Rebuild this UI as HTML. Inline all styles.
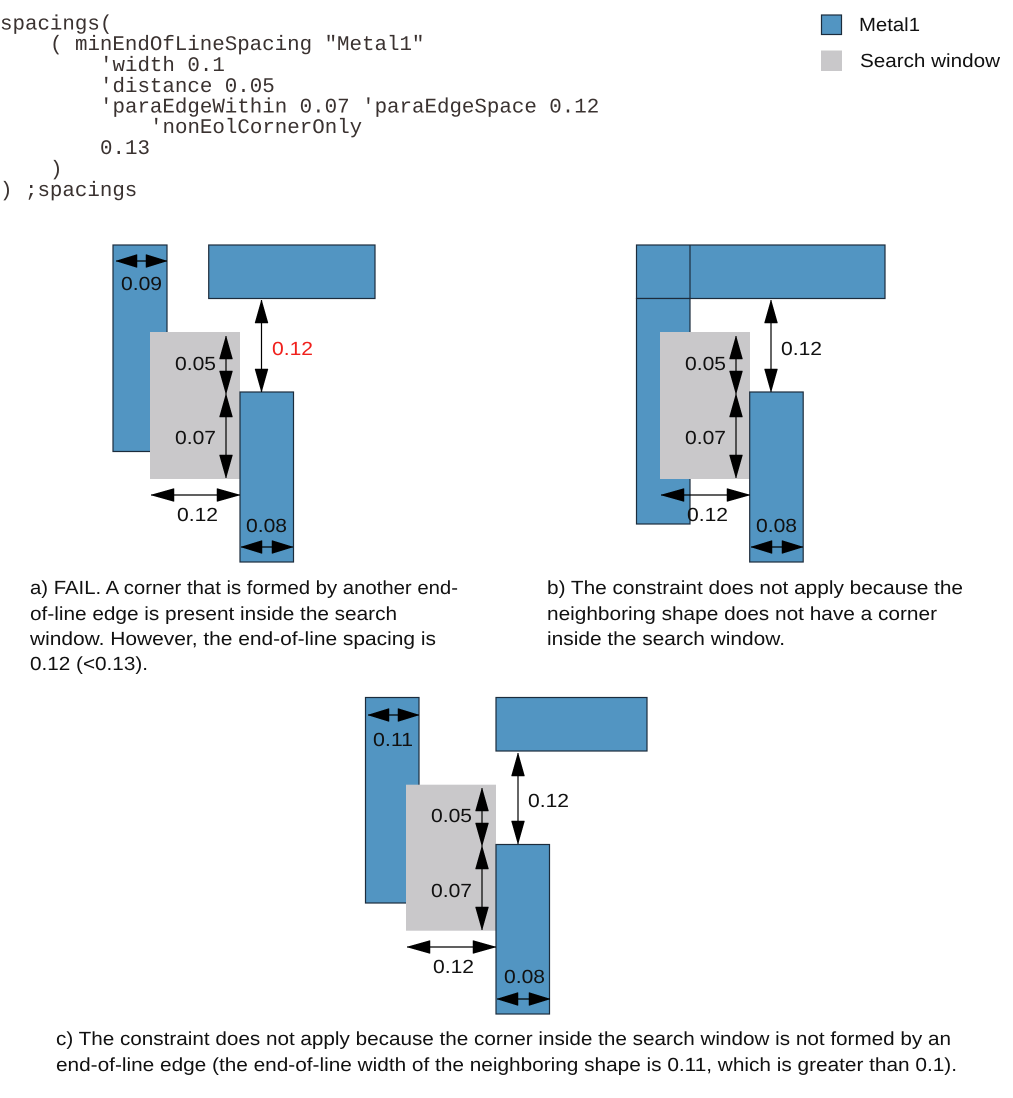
<!DOCTYPE html>
<html><head><meta charset="utf-8"><style>
html,body{margin:0;padding:0;background:#fff;width:1013px;height:1098px;overflow:hidden}
svg{display:block;text-rendering:geometricPrecision}
text{font-family:"Liberation Sans",sans-serif;font-size:19px;fill:#111}
.c text{font-family:"Liberation Mono",monospace;font-size:20.8px;fill:#3a3230;white-space:pre}
.r{fill:#5295c2;stroke:#1c2c3c;stroke-width:1.2}
.g{fill:#c9c8ca}
.l{stroke:#000;stroke-width:1.2;fill:none}
.h{fill:#000;stroke:#000;stroke-width:.5}
</style></head><body>
<svg width="1013" height="1098" viewBox="0 0 1013 1098" xmlns="http://www.w3.org/2000/svg">
<g class="c">
<text x="0" y="29.500">spacings(</text>
<text x="50" y="50">( minEndOfLineSpacing "Metal1"</text>
<text x="100" y="71">'width 0.1</text>
<text x="100" y="92">'distance 0.05</text>
<text x="100" y="112.500">'paraEdgeWithin 0.07 'paraEdgeSpace 0.12</text>
<text x="150" y="133">'nonEolCornerOnly</text>
<text x="100" y="154">0.13</text>
<text x="50" y="175">)</text>
<text x="0" y="196">) ;spacings</text>
</g>
<rect class="r" x="821.500" y="15" width="20" height="19.500"/>
<rect class="g" x="821" y="50.500" width="21" height="20.500"/>
<text x="859" y="31" textLength="61" lengthAdjust="spacingAndGlyphs">Metal1</text>
<text x="860" y="67" textLength="140" lengthAdjust="spacingAndGlyphs">Search window</text>

<!-- a -->
<rect class="r" x="113" y="245" width="54" height="206.500"/>
<rect class="r" x="208.700" y="245" width="166.300" height="53.500"/>
<rect class="g" x="150" y="332" width="90" height="147"/>
<rect class="r" x="240" y="392" width="53.500" height="170"/>
<path class="l" d="M116 261H167M261.500 300V392M226 336V478M151 495H240M241 547H293"/>
<path class="h" d="M116 261L137 254.500V267.500ZM167 261L146 254.500V267.500ZM261.500 300L255 323H268ZM261.500 392L255 369H268ZM226 336L219.500 359H232.500ZM226 394L219.500 371H232.500ZM226 394L219.500 417H232.500ZM226 478L219.500 455H232.500ZM151 495L174 488.500V501.500ZM240 495L217 488.500V501.500ZM241 547L262 540.500V553.500ZM293 547L272 540.500V553.500Z"/>
<text x="121" y="290" textLength="41" lengthAdjust="spacingAndGlyphs">0.09</text>
<text x="272" y="355" textLength="41" lengthAdjust="spacingAndGlyphs" style="fill:#f0201c">0.12</text>
<text x="175" y="370" textLength="41" lengthAdjust="spacingAndGlyphs">0.05</text>
<text x="175" y="444" textLength="41" lengthAdjust="spacingAndGlyphs">0.07</text>
<text x="177" y="521" textLength="41" lengthAdjust="spacingAndGlyphs">0.12</text>
<text x="246" y="532" textLength="41" lengthAdjust="spacingAndGlyphs">0.08</text>
<text x="30" y="594" textLength="428" lengthAdjust="spacingAndGlyphs">a) FAIL. A corner that is formed by another end-</text>
<text x="30" y="620" textLength="367" lengthAdjust="spacingAndGlyphs">of-line edge is present inside the search</text>
<text x="30" y="645" textLength="406" lengthAdjust="spacingAndGlyphs">window. However, the end-of-line spacing is</text>
<text x="30" y="670" textLength="118" lengthAdjust="spacingAndGlyphs">0.12 (&lt;0.13).</text>

<!-- b -->
<rect class="r" x="636.500" y="245" width="248.500" height="53.500"/>
<rect class="r" x="636.500" y="298.500" width="53.500" height="225.500"/>
<path class="l" d="M690 245V298.500" style="stroke:#1c2c3c"/>
<rect class="g" x="660" y="332" width="90" height="147"/>
<rect class="r" x="749.700" y="392" width="53.500" height="170"/>
<path class="l" d="M771 300V392M736 336V478M661 495H750M751 547H803"/>
<path class="h" d="M771 300L764.500 323H777.500ZM771 392L764.500 369H777.500ZM736 336L729.500 359H742.500ZM736 394L729.500 371H742.500ZM736 394L729.500 417H742.500ZM736 478L729.500 455H742.500ZM661 495L684 488.500V501.500ZM750 495L727 488.500V501.500ZM751 547L772 540.500V553.500ZM803 547L782 540.500V553.500Z"/>
<text x="781" y="355" textLength="41" lengthAdjust="spacingAndGlyphs">0.12</text>
<text x="685" y="370" textLength="41" lengthAdjust="spacingAndGlyphs">0.05</text>
<text x="685" y="444" textLength="41" lengthAdjust="spacingAndGlyphs">0.07</text>
<text x="687" y="521" textLength="41" lengthAdjust="spacingAndGlyphs">0.12</text>
<text x="756" y="532" textLength="41" lengthAdjust="spacingAndGlyphs">0.08</text>
<text x="547" y="594" textLength="416" lengthAdjust="spacingAndGlyphs">b) The constraint does not apply because the</text>
<text x="547" y="620" textLength="390" lengthAdjust="spacingAndGlyphs">neighboring shape does not have a corner</text>
<text x="547" y="645" textLength="238" lengthAdjust="spacingAndGlyphs">inside the search window.</text>

<!-- c -->
<rect class="r" x="365.500" y="697.500" width="53.500" height="205.500"/>
<rect class="r" x="496" y="697.500" width="151" height="53.500"/>
<rect class="g" x="406" y="784.700" width="90" height="146"/>
<rect class="r" x="496" y="844.500" width="53.500" height="169.500"/>
<path class="l" d="M368 715H419M518 753V844M482 788V930M407 947H496M497 999H550"/>
<path class="h" d="M368 715L389 708.500V721.500ZM419 715L398 708.500V721.500ZM518 753L511.500 776H524.500ZM518 844L511.500 821H524.500ZM482 788L475.500 811H488.500ZM482 846L475.500 823H488.500ZM482 846L475.500 869H488.500ZM482 930L475.500 907H488.500ZM407 947L430 940.500V953.500ZM496 947L473 940.500V953.500ZM497 999L518 992.500V1005.500ZM550 999L529 992.500V1005.500Z"/>
<text x="373" y="746" textLength="40" lengthAdjust="spacingAndGlyphs">0.11</text>
<text x="528" y="807" textLength="41" lengthAdjust="spacingAndGlyphs">0.12</text>
<text x="431" y="822" textLength="41" lengthAdjust="spacingAndGlyphs">0.05</text>
<text x="431" y="897" textLength="41" lengthAdjust="spacingAndGlyphs">0.07</text>
<text x="433" y="973" textLength="41" lengthAdjust="spacingAndGlyphs">0.12</text>
<text x="504" y="983" textLength="41" lengthAdjust="spacingAndGlyphs">0.08</text>
<text x="56" y="1045" textLength="895" lengthAdjust="spacingAndGlyphs">c) The constraint does not apply because the corner inside the search window is not formed by an</text>
<text x="56" y="1071" textLength="901" lengthAdjust="spacingAndGlyphs">end-of-line edge (the end-of-line width of the neighboring shape is 0.11, which is greater than 0.1).</text>
</svg>
</body></html>
